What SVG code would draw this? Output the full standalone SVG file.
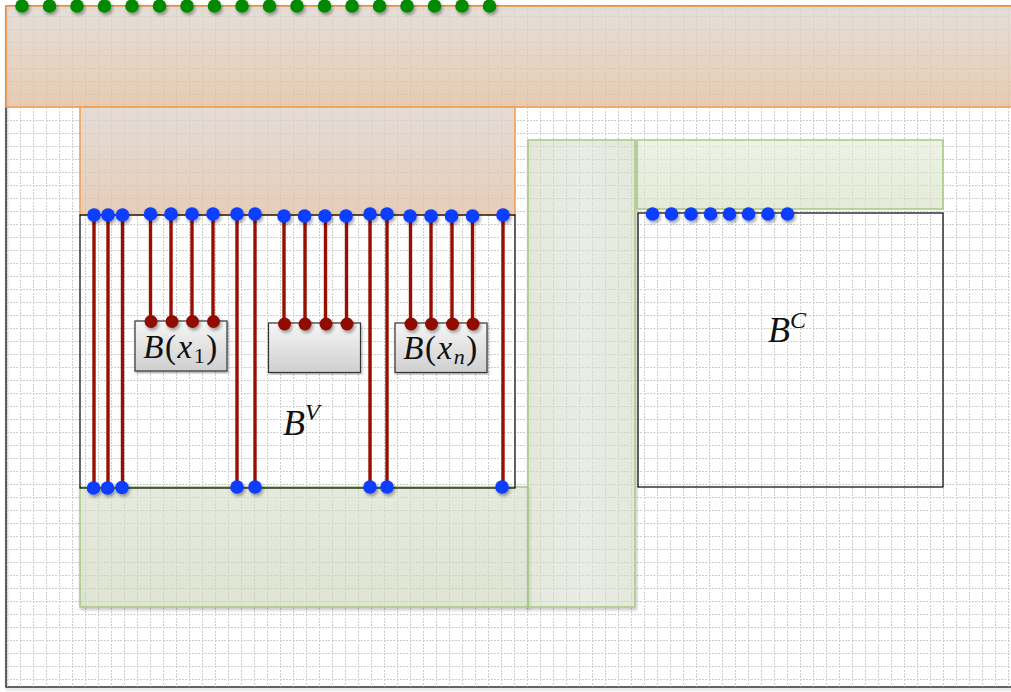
<svg xmlns="http://www.w3.org/2000/svg" width="1011" height="692" viewBox="0 0 1011 692">
<style>
.rl{stroke:#970f02;stroke-width:3.4;fill:none}
.rd{fill:#8e0f00}
.bd{fill:#0a3cff}
.gd{fill:#008a00}
.box{fill:url(#boxg);stroke:#333;stroke-width:1.2}
.frame{fill:none;stroke:#000;stroke-width:1.2}
.org{stroke:#f2a055;stroke-width:1.6}
.grn{stroke:#a9c884;stroke-width:1.5}
.lbl{font-family:"Liberation Serif","DejaVu Serif",serif;fill:#111}
.it{font-style:italic}
.gl{stroke:#cdcdcd;stroke-width:1;stroke-dasharray:2 1.25;shape-rendering:crispEdges}
</style>
<defs>
<pattern id="grid" patternUnits="userSpaceOnUse" x="0" y="0" width="13" height="13">
<line class="gl" x1="0" y1="3.5" x2="13" y2="3.5"/>
<line class="gl" x1="7.5" y1="0" x2="7.5" y2="13"/>
</pattern>
<linearGradient id="orgg" x1="0" y1="0" x2="0" y2="1">
<stop offset="0" stop-color="#ddd6ce"/>
<stop offset="1" stop-color="#e0bc9c"/>
</linearGradient>
<linearGradient id="org2" x1="0" y1="0" x2="0" y2="1">
<stop offset="0" stop-color="#dcd2ca"/>
<stop offset="1" stop-color="#dfc0a6"/>
</linearGradient>
<linearGradient id="grng" x1="0" y1="0" x2="0" y2="1">
<stop offset="0" stop-color="#e4ecd6"/>
<stop offset="1" stop-color="#d6e0c2"/>
</linearGradient>
<linearGradient id="grnv" x1="0" y1="0" x2="1" y2="0">
<stop offset="0" stop-color="#dce6cc"/>
<stop offset="0.5" stop-color="#e8eedf"/>
<stop offset="1" stop-color="#dce6cc"/>
</linearGradient>
<linearGradient id="boxg" x1="0" y1="0" x2="0" y2="1">
<stop offset="0" stop-color="#f6f6f6"/>
<stop offset="1" stop-color="#cfcfcf"/>
</linearGradient>
<filter id="sh" x="-20%" y="-20%" width="150%" height="150%">
<feDropShadow dx="1.5" dy="2.5" stdDeviation="1.5" flood-color="#000" flood-opacity="0.35"/>
</filter>
<filter id="shs" x="-5%" y="-5%" width="110%" height="110%">
<feDropShadow dx="1" dy="2" stdDeviation="1.5" flood-color="#000" flood-opacity="0.3"/>
</filter>
</defs>

<g id="background">
<rect x="6" y="6" width="1010" height="681" fill="#fff" class="frame" filter="url(#shs)"/>
<rect x="6.5" y="6.5" width="1010" height="680" fill="url(#grid)"/>
</g>

<g id="top-band">
<rect x="6" y="6" width="1012" height="101" fill="url(#orgg)" fill-opacity="0.78" class="org"/>
</g>
<g id="top-block">
<rect x="80" y="107" width="435" height="108" fill="url(#org2)" fill-opacity="0.78" class="org"/>
</g>
<g id="green-bottom">
<rect x="80" y="487" width="448" height="120" fill="url(#grng)" fill-opacity="0.55" class="grn" filter="url(#shs)"/>
</g>
<g id="green-vertical">
<rect x="528" y="140" width="107" height="467" fill="url(#grnv)" fill-opacity="0.5" class="grn" filter="url(#shs)"/>
</g>
<g id="green-top-right">
<rect x="637" y="140" width="306" height="69" fill="url(#grng)" fill-opacity="0.65" class="grn"/>
</g>

<g id="BV">
<rect x="80" y="215" width="435" height="273" class="frame" stroke-width="1.3"/>
<text class="lbl" x="283" y="435" font-size="36"><tspan class="it">B</tspan><tspan class="it" font-size="24" dy="-15">V</tspan></text>
</g>
<g id="BC">
<rect x="638" y="213" width="305" height="274" class="frame" stroke-width="1.3"/>
<text class="lbl" x="768" y="341.5" font-size="36"><tspan class="it">B</tspan><tspan class="it" font-size="24" dy="-14">C</tspan></text>
</g>

<g id="connectors">
<line class="rl" x1="94" y1="215" x2="94" y2="488"/>
<line class="rl" x1="108" y1="215" x2="108" y2="488"/>
<line class="rl" x1="122.5" y1="215" x2="122.5" y2="488"/>
<line class="rl" x1="237" y1="214" x2="237" y2="488"/>
<line class="rl" x1="255" y1="214" x2="255" y2="488"/>
<line class="rl" x1="370" y1="214" x2="370" y2="488"/>
<line class="rl" x1="387" y1="214" x2="387" y2="488"/>
<line class="rl" x1="503" y1="215" x2="503" y2="488"/>
<line class="rl" x1="150.5" y1="214" x2="150.5" y2="321.5"/>
<line class="rl" x1="171" y1="214" x2="171" y2="321.5"/>
<line class="rl" x1="192" y1="214" x2="192" y2="321.5"/>
<line class="rl" x1="213" y1="214" x2="213" y2="321.5"/>
<line class="rl" x1="284" y1="216" x2="284" y2="324"/>
<line class="rl" x1="305" y1="216" x2="305" y2="324"/>
<line class="rl" x1="325.5" y1="216" x2="325.5" y2="324"/>
<line class="rl" x1="346.5" y1="216" x2="346.5" y2="324"/>
<line class="rl" x1="410.5" y1="216" x2="410.5" y2="324"/>
<line class="rl" x1="431" y1="216" x2="431" y2="324"/>
<line class="rl" x1="452" y1="216" x2="452" y2="324"/>
<line class="rl" x1="472.5" y1="216" x2="472.5" y2="324"/>
</g>

<g id="Bx1">
<rect x="135" y="321" width="92" height="50" class="box" filter="url(#shs)"/>
<text class="lbl" x="181" y="358" font-size="33" text-anchor="middle" letter-spacing="1.5"><tspan class="it">B</tspan>(<tspan class="it">x</tspan><tspan font-size="22" dy="5">1</tspan><tspan dy="-5">)</tspan></text>
</g>
<g id="Bmid">
<rect x="268.5" y="323" width="92" height="49.5" class="box" filter="url(#shs)"/>
</g>
<g id="Bxn">
<rect x="395" y="323" width="92" height="49.5" class="box" filter="url(#shs)"/>
<text class="lbl" x="441" y="359" font-size="33" text-anchor="middle" letter-spacing="1.5"><tspan class="it">B</tspan>(<tspan class="it">x</tspan><tspan class="it" font-size="22" dy="5">n</tspan><tspan dy="-5">)</tspan></text>
</g>

<g id="red-dots" filter="url(#sh)">
<circle class="rd" cx="151" cy="321.5" r="6.5"/>
<circle class="rd" cx="172" cy="321.5" r="6.5"/>
<circle class="rd" cx="192.5" cy="321.5" r="6.5"/>
<circle class="rd" cx="213.5" cy="321.5" r="6.5"/>
<circle class="rd" cx="284.5" cy="324" r="6.5"/>
<circle class="rd" cx="305" cy="324" r="6.5"/>
<circle class="rd" cx="326" cy="324" r="6.5"/>
<circle class="rd" cx="347" cy="324" r="6.5"/>
<circle class="rd" cx="411" cy="324" r="6.5"/>
<circle class="rd" cx="431.5" cy="324" r="6.5"/>
<circle class="rd" cx="452.5" cy="324" r="6.5"/>
<circle class="rd" cx="473" cy="324" r="6.5"/>
</g>

<g id="blue-dots-BV" filter="url(#sh)">
<circle class="bd" cx="94" cy="215" r="6.8"/>
<circle class="bd" cx="108" cy="215" r="6.8"/>
<circle class="bd" cx="122.5" cy="215" r="6.8"/>
<circle class="bd" cx="150.5" cy="214" r="6.8"/>
<circle class="bd" cx="171" cy="214" r="6.8"/>
<circle class="bd" cx="192" cy="214" r="6.8"/>
<circle class="bd" cx="213" cy="214" r="6.8"/>
<circle class="bd" cx="237" cy="214" r="6.8"/>
<circle class="bd" cx="255" cy="214" r="6.8"/>
<circle class="bd" cx="284" cy="216" r="6.8"/>
<circle class="bd" cx="304.5" cy="216" r="6.8"/>
<circle class="bd" cx="325" cy="216" r="6.8"/>
<circle class="bd" cx="346" cy="216" r="6.8"/>
<circle class="bd" cx="370" cy="214" r="6.8"/>
<circle class="bd" cx="387" cy="214" r="6.8"/>
<circle class="bd" cx="410" cy="216" r="6.8"/>
<circle class="bd" cx="431" cy="216" r="6.8"/>
<circle class="bd" cx="451.5" cy="216" r="6.8"/>
<circle class="bd" cx="472.5" cy="216" r="6.8"/>
<circle class="bd" cx="503" cy="215" r="6.8"/>
<circle class="bd" cx="93.5" cy="488" r="6.8"/>
<circle class="bd" cx="107.5" cy="488" r="6.8"/>
<circle class="bd" cx="122" cy="487.5" r="6.8"/>
<circle class="bd" cx="237" cy="487" r="6.8"/>
<circle class="bd" cx="255" cy="487" r="6.8"/>
<circle class="bd" cx="370" cy="487" r="6.8"/>
<circle class="bd" cx="387" cy="487" r="6.8"/>
<circle class="bd" cx="502" cy="487" r="6.8"/>
</g>

<g id="blue-dots-BC" filter="url(#sh)">
<circle class="bd" cx="652.5" cy="214" r="6.8"/>
<circle class="bd" cx="671.5" cy="214" r="6.8"/>
<circle class="bd" cx="691" cy="214" r="6.8"/>
<circle class="bd" cx="710.5" cy="214" r="6.8"/>
<circle class="bd" cx="729.5" cy="214" r="6.8"/>
<circle class="bd" cx="748.5" cy="214" r="6.8"/>
<circle class="bd" cx="768" cy="214" r="6.8"/>
<circle class="bd" cx="787.5" cy="214" r="6.8"/>
</g>

<g id="green-dots" filter="url(#sh)">
<circle class="gd" cx="22" cy="6" r="6.8"/>
<circle class="gd" cx="49.5" cy="6" r="6.8"/>
<circle class="gd" cx="77" cy="6" r="6.8"/>
<circle class="gd" cx="104.5" cy="6" r="6.8"/>
<circle class="gd" cx="132" cy="6" r="6.8"/>
<circle class="gd" cx="159.5" cy="6" r="6.8"/>
<circle class="gd" cx="187" cy="6" r="6.8"/>
<circle class="gd" cx="214.5" cy="6" r="6.8"/>
<circle class="gd" cx="242" cy="6" r="6.8"/>
<circle class="gd" cx="269.5" cy="6" r="6.8"/>
<circle class="gd" cx="297" cy="6" r="6.8"/>
<circle class="gd" cx="324.5" cy="6" r="6.8"/>
<circle class="gd" cx="352" cy="6" r="6.8"/>
<circle class="gd" cx="379.5" cy="6" r="6.8"/>
<circle class="gd" cx="407" cy="6" r="6.8"/>
<circle class="gd" cx="434.5" cy="6" r="6.8"/>
<circle class="gd" cx="462" cy="6" r="6.8"/>
<circle class="gd" cx="489.5" cy="6" r="6.8"/>
</g>
</svg>
